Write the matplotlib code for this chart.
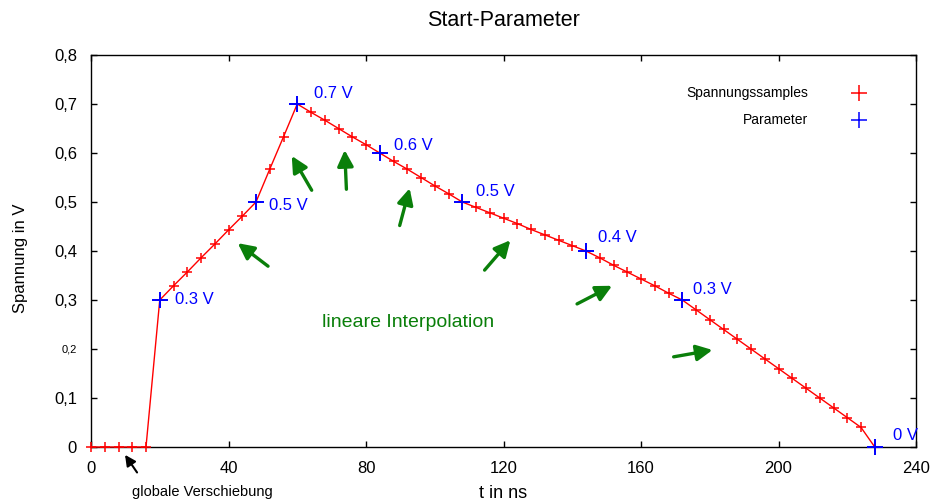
import matplotlib
matplotlib.use("Agg")
import matplotlib.pyplot as plt

plt.rcParams['font.family'] = ['Liberation Sans', 'DejaVu Sans']

# ---- data ----
sample_t = [0, 4, 8, 12, 16, 20, 24, 28, 32, 36, 40, 44, 48, 52, 56, 60,
            64, 68, 72, 76, 80, 84, 88, 92, 96, 100, 104, 108,
            112, 116, 120, 124, 128, 132, 136, 140, 144,
            148, 152, 156, 160, 164, 168, 172,
            176, 180, 184, 188, 192, 196, 200, 204, 208, 212, 216, 220, 224, 228]
sample_v = [0, 0, 0, 0, 0, 0.30, 0.329, 0.357, 0.386, 0.414, 0.443, 0.471, 0.50,
            0.567, 0.633, 0.70,
            0.683, 0.667, 0.650, 0.633, 0.617, 0.60, 0.583, 0.567, 0.550, 0.533, 0.517, 0.50,
            0.489, 0.478, 0.467, 0.456, 0.444, 0.433, 0.422, 0.411, 0.40,
            0.386, 0.371, 0.357, 0.343, 0.329, 0.314, 0.30,
            0.28, 0.26, 0.24, 0.22, 0.20, 0.18, 0.16, 0.14, 0.12, 0.10, 0.08, 0.06, 0.04, 0]

param_t = [20, 48, 60, 84, 108, 144, 172, 228]
param_v = [0.3, 0.5, 0.7, 0.6, 0.5, 0.4, 0.3, 0.0]
param_labels = ["0.3 V", "0.5 V", "0.7 V", "0.6 V", "0.5 V", "0.4 V", "0.3 V", "0 V"]

x_ticks = [0, 40, 80, 120, 160, 200, 240]
y_ticks = [0, 0.1, 0.2, 0.3, 0.4, 0.5, 0.6, 0.7, 0.8]
y_ticklabels = ["0", "0,1", "0,2", "0,3", "0,4", "0,5", "0,6", "0,7", "0,8"]

# arrows (tail -> head) in data coordinates
arrow_tails = [(51.5, 0.369), (64.2, 0.524), (74.3, 0.526), (89.8, 0.452),
               (114.5, 0.361), (141.4, 0.292), (169.5, 0.184)]
arrow_heads = [(42.7, 0.416), (58.4, 0.594), (73.8, 0.606), (92.7, 0.528),
               (122.0, 0.422), (151.6, 0.329), (180.8, 0.198)]

# ---- figure ----
fig = plt.figure(figsize=(9.33, 5.01), dpi=100)
ax = fig.add_axes([91 / 933, 1 - 447 / 501, 825 / 933, 392 / 501])

RED = '#ff0000'
BLUE = '#0000ff'
GREEN = '#0a7f0a'

ax.plot(sample_t, sample_v, color=RED, lw=1.0, marker='+', ms=7, mew=1.1,
        clip_on=False, zorder=4)
ax.plot(param_t, param_v, linestyle='none', color=BLUE, marker='+', ms=11, mew=1.4,
        clip_on=False, zorder=5)

label_offsets = [(15, 0), (13, -3), (17, 11), (14, 8), (14, 10), (12, 13), (11, 11), (18, 12)]
for t, v, lab, off in zip(param_t, param_v, param_labels, label_offsets):
    ax.annotate(lab, xy=(t, v), xytext=off, textcoords='offset pixels',
                ha='left', va='center', color=BLUE, fontsize=12,
                annotation_clip=False)

for tail, head in zip(arrow_tails, arrow_heads):
    ax.annotate('', xy=head, xytext=tail,
                arrowprops=dict(arrowstyle='-|>', color=GREEN, lw=2.4,
                                mutation_scale=24, shrinkA=0, shrinkB=0))

ax.text(92.3, 0.255, 'lineare Interpolation', color=GREEN, fontsize=14,
        ha='center', va='center')

# global shift annotation
ax.annotate('', xy=(9.9, -0.016), xytext=(13.4, -0.052),
            arrowprops=dict(arrowstyle='-|>', color='black', lw=1.5,
                            mutation_scale=16, shrinkA=0, shrinkB=0),
            annotation_clip=False)
ax.text(11.8, -0.092, 'globale Verschiebung', fontsize=10.5, ha='left',
        va='center', clip_on=False)

ax.set_xlim(0, 240)
ax.set_ylim(0, 0.8)
ax.set_xticks(x_ticks)
ax.set_xticklabels([str(x) for x in x_ticks])
ax.set_yticks(y_ticks)
ax.set_yticklabels(y_ticklabels)
for lbl in ax.get_yticklabels():
    if lbl.get_text() == "0,2":
        lbl.set_fontsize(8)
    else:
        lbl.set_fontsize(12)
for lbl in ax.get_xticklabels():
    lbl.set_fontsize(12)

ax.tick_params(direction='in', length=4.5, width=1.0, top=True, right=True,
               pad=10)
for s in ax.spines.values():
    s.set_linewidth(1.0)

ax.set_xlabel('t in ns', fontsize=13)
ax.xaxis.set_label_coords(0.5, -0.118)
ax.xaxis.label.set_va('center')
ax.set_ylabel('Spannung in V', fontsize=12)
ax.yaxis.set_label_coords(-0.086, 0.482)
ax.yaxis.label.set_va('center')

ax.set_title('Start-Parameter', fontsize=15.5, y=1.089, va='center', pad=0)

# key (gnuplot style: right-aligned text, sample to the right)
ax.text(0.869, 0.903, 'Spannungssamples', transform=ax.transAxes, ha='right',
        va='center', fontsize=10)
ax.text(0.869, 0.834, 'Parameter', transform=ax.transAxes, ha='right',
        va='center', fontsize=10)
ax.plot([0.931], [0.903], transform=ax.transAxes, color=RED, marker='+', ms=11,
        mew=1.1, linestyle='none')
ax.plot([0.931], [0.834], transform=ax.transAxes, color=BLUE, marker='+', ms=11,
        mew=1.1, linestyle='none')

fig.savefig('out.png', dpi=100)
